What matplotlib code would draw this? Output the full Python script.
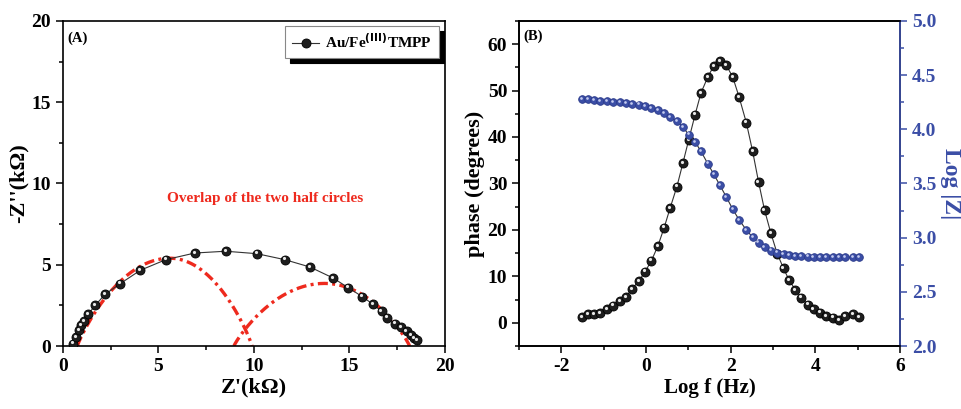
import numpy as np
import matplotlib.pyplot as plt
from matplotlib.transforms import offset_copy
from matplotlib.ticker import MultipleLocator

plt.rcParams['font.family'] = ['Liberation Serif', 'DejaVu Serif']
plt.rcParams['font.weight'] = 'bold'
plt.rcParams['mathtext.default'] = 'bf'
plt.rcParams['axes.unicode_minus'] = False

# Nyquist data (kOhm)
z_real = [0.52, 0.66, 0.82, 0.93, 1.08, 1.31, 1.69, 2.2, 3.0, 4.05, 5.38, 6.9,
          8.52, 10.15, 11.62, 12.93, 14.15, 14.93, 15.67, 16.24, 16.68, 16.98,
          17.38, 17.69, 17.99, 18.22, 18.39, 18.52]
z_imag = [0.14, 0.55, 0.96, 1.27, 1.54, 1.95, 2.5, 3.18, 3.84, 4.66, 5.31, 5.72,
          5.83, 5.68, 5.31, 4.86, 4.18, 3.59, 3.04, 2.56, 2.13, 1.74,
          1.37, 1.17, 0.90, 0.66, 0.49, 0.35]

# fitted half circles: (left end, apex position, right end, apex height)
arcs = [(0.75, 5.6, 9.9, 5.4), (8.95, 13.7, 18.15, 3.85)]

# Bode data
log_f = [-1.51, -1.37, -1.22, -1.08, -0.92, -0.78, -0.62, -0.47, -0.33, -0.17,
         -0.02, 0.13, 0.28, 0.43, 0.57, 0.73, 0.87, 1.01, 1.16, 1.30,
         1.46, 1.60, 1.75, 1.90, 2.05, 2.20, 2.37, 2.52, 2.66, 2.80,
         2.95, 3.10, 3.25, 3.38, 3.53, 3.67, 3.82, 3.96, 4.11, 4.25,
         4.41, 4.56, 4.70, 4.89, 5.04]
phase = [1.15, 1.9, 1.9, 2.0, 3.0, 3.7, 4.6, 5.6, 7.3, 9.0,
         11.0, 13.4, 16.5, 20.5, 24.7, 29.3, 34.3, 39.4, 44.8, 49.5,
         52.9, 55.3, 56.3, 55.4, 52.9, 48.6, 43.1, 36.9, 30.3, 24.3,
         19.3, 14.9, 11.7, 9.2, 7.1, 5.4, 3.9, 3.0, 2.2, 1.5,
         1.1, 0.6, 1.5, 1.9, 1.15]
log_z = [4.275, 4.275, 4.272, 4.262, 4.259, 4.253, 4.250, 4.244, 4.235, 4.228,
         4.213, 4.198, 4.176, 4.151, 4.114, 4.074, 4.020, 3.950, 3.883, 3.796,
         3.682, 3.586, 3.481, 3.373, 3.262, 3.164, 3.071, 3.003, 2.954, 2.910,
         2.880, 2.861, 2.846, 2.836, 2.830, 2.826, 2.824, 2.822, 2.821, 2.820,
         2.820, 2.819, 2.819, 2.818, 2.818]

BLUE = '#3b4ea6'
RED = '#ee2a1e'


def balls(ax, x, y, color, hi, ms, line=True, label=None):
    h, = ax.plot(x, y, '-' if line else 'none', color='#333333', lw=0.8,
                 marker='o', ms=ms, mfc=color, mec='black' if color != BLUE else '#2a3a8a',
                 mew=0.6, label=label, zorder=3)
    tr = offset_copy(ax.transData, fig=ax.figure, x=-0.8, y=0.9, units='points')
    ax.plot(x, y, 'none', marker='o', ms=ms * 0.35, mfc=hi, mec='none',
            transform=tr, zorder=4)
    return h


def arc_curve(left, apex, right, height, n=150):
    # depressed half circle, drawn separately on each side of the apex
    xl = np.linspace(left, apex, n)
    xr = np.linspace(apex, right, n)[1:]
    ul = (xl - apex) / (apex - left)
    ur = (xr - apex) / (right - apex)
    x = np.concatenate([xl, xr])
    u = np.concatenate([ul, ur])
    return x, height * np.clip(1 - u ** 2, 0, None) ** 0.9


def style(ax):
    for s in ax.spines.values():
        s.set_linewidth(1.2)
    ax.tick_params(which='both', direction='out', labelsize=14, width=1.1)
    ax.tick_params(which='major', length=5)
    ax.tick_params(which='minor', length=3)
    for t in ax.get_xticklabels() + ax.get_yticklabels():
        t.set_fontweight('bold')


fig = plt.figure(figsize=(9.62, 4.09), dpi=100)

# (A) Nyquist plot
ax1 = fig.add_axes([0.0655, 0.154, 0.397, 0.795])
h = balls(ax1, z_real, z_imag, '#1e1e1e', '#e8e8e8', 6.5, label='Au/Fe$^{(III)}$TMPP')
for left, apex, right, height in arcs:
    ax1.plot(*arc_curve(left, apex, right, height), color=RED, lw=2.4,
             ls=(0, (3, 1.3, 0.9, 1.3)), zorder=2)
ax1.set_xlim(0, 20)
ax1.set_ylim(0, 20)
ax1.xaxis.set_major_locator(MultipleLocator(5))
ax1.yaxis.set_major_locator(MultipleLocator(5))
ax1.xaxis.set_minor_locator(MultipleLocator(2.5))
ax1.yaxis.set_minor_locator(MultipleLocator(2.5))
style(ax1)
ax1.set_xlabel("Z'(k\u03a9)", fontsize=16, fontweight='bold', labelpad=2)
ax1.set_ylabel("-Z''(k\u03a9)", fontsize=16, fontweight='bold', labelpad=2)
ax1.text(0.25, 18.9, '(A)', fontsize=10.5, fontweight='bold', va='center')
ax1.text(10.6, 9.05, 'Overlap of the two half circles', color=RED, fontsize=11,
         fontweight='bold', ha='center', va='center')
leg = ax1.legend(handles=[h], loc='upper right', bbox_to_anchor=(0.985, 0.985),
                 borderaxespad=0, fancybox=False, edgecolor='#888888',
                 shadow={'color': 'black', 'alpha': 1, 'ox': 3.5, 'oy': -3.5},
                 prop={'size': 11, 'weight': 'bold'}, handlelength=1.8,
                 handletextpad=0.4, borderpad=0.45, framealpha=1)
leg.get_frame().set_linewidth(0.8)

# (B) Bode plot
ax2 = fig.add_axes([0.5395, 0.154, 0.396, 0.795])
ax3 = ax2.twinx()
balls(ax2, log_f, phase, '#1e1e1e', '#e8e8e8', 6.5)
balls(ax3, log_f, log_z, BLUE, '#c4cbef', 5.5, line=False)
ax2.set_xlim(-3, 6)
ax2.set_ylim(-5, 65)
ax3.set_ylim(2.0, 5.0)
ax2.xaxis.set_major_locator(MultipleLocator(2))
ax2.xaxis.set_minor_locator(MultipleLocator(1))
ax2.yaxis.set_major_locator(MultipleLocator(10))
ax2.yaxis.set_minor_locator(MultipleLocator(5))
ax3.yaxis.set_major_locator(MultipleLocator(0.5))
ax3.yaxis.set_minor_locator(MultipleLocator(0.25))
ax3.yaxis.set_major_formatter(plt.FormatStrFormatter('%.1f'))
style(ax2)
style(ax3)
ax2.tick_params(axis='x', top=False)
ax3.tick_params(axis='y', which='both', colors=BLUE)
ax3.spines['right'].set_color(BLUE)
ax2.set_xlabel('Log f (Hz)', fontsize=15, fontweight='bold', labelpad=2)
ax2.set_ylabel('phase (degrees)', fontsize=16, fontweight='bold', labelpad=2)
ax3.set_ylabel('Log |Z|', fontsize=17, fontweight='bold', color=BLUE,
               rotation=270, labelpad=18)
ax2.text(-2.9, 61.7, '(B)', fontsize=10.5, fontweight='bold', va='center')

fig.savefig('out.png', dpi=100)
